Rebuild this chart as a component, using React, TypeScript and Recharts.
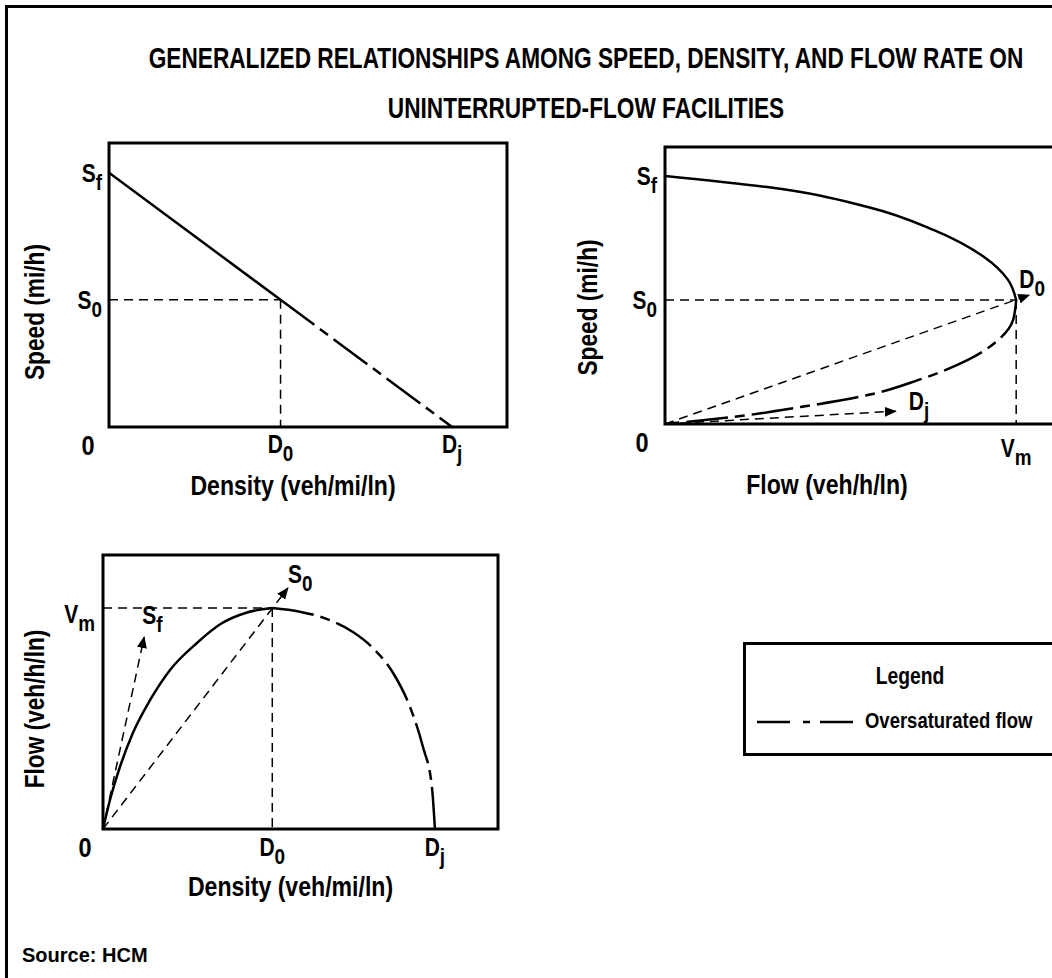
import React from 'react';
import { LineChart, Line, XAxis, YAxis, ReferenceLine, ReferenceArea, ReferenceDot } from 'recharts';

const FONT = "'Liberation Sans', Arial, sans-serif";
// no Arial Narrow here, so squash Liberation Sans Bold horizontally
const NARROW = 0.84;

// speed vs density (top left)
const sdDensity = [0, 50, 100];
const sdSpeed = [60, 30, 0];
const sdXTicks = [0, 50, 100];
const sdXLabels = [['0', ''], ['D', '0'], ['D', 'j']];
const sdYTicks = [30, 60];
const sdYLabels = [['S', '0'], ['S', 'f']];

// speed vs flow (top right)
const sfUpperFlow = [0, 437, 866, 1149, 1363, 1466, 1500];
const sfUpperSpeed = [60, 57.3, 52.5, 46.9, 40.4, 34.8, 30];
const sfLowerFlow = [1500, 1487, 1423, 1294, 1080, 866, 579, 291, 0];
const sfLowerSpeed = [30, 25.2, 20.3, 15.5, 10.6, 7.0, 4.1, 1.7, 0];
const sfArrowFlow = [1556, 986];
const sfArrowSpeed = [31.2, 3.1];
const sfXTicks = [0, 1500];
const sfXLabels = [['0', ''], ['V', 'm']];
const sfYTicks = [30, 60];
const sfYLabels = [['S', '0'], ['S', 'f']];

// flow vs density (bottom left)
const fdUnderDensity = [0, 2.1, 5.1, 9.0, 14.2, 20.2, 28.3, 35.3, 43.4, 51];
const fdUnderFlow = [0, 197, 421, 652, 876, 1080, 1263, 1390, 1470, 1500];
const fdOverDensity = [51, 59.3, 67.5, 75.3, 81.3, 87.4, 92.5, 96.4, 99.1, 100];
const fdOverFlow = [1500, 1475, 1425, 1337, 1229, 1059, 828, 557, 285, 0];
const fdArrowDensity = [12.4, 55.7];
const fdArrowFlow = [1303, 1636];
const fdXTicks = [0, 51, 100];
const fdXLabels = [['0', ''], ['D', '0'], ['D', 'j']];
const fdYTicks = [1500];
const fdYLabels = [['V', 'm']];

const pts = (xs: number[], ys: number[]) => xs.map((x, i) => ({ x, y: ys[i] }));

const txt = { fontFamily: FONT, fontWeight: 700, fill: '#000' };
const squash = (x: number) => `translate(${x} 0) scale(${NARROW} 1) translate(${-x} 0)`;

const SubLabel = ({ x, y, main, sub, anchor = 'middle', size = 25 }: any) => (
  <text x={x} y={y} textAnchor={anchor} fontSize={size} transform={squash(x)} {...txt}>
    {main}
    {sub ? <tspan dy={size * 0.33} fontSize={size * 0.9}>{sub}</tspan> : null}
  </text>
);

const xTick = (values: number[], labels: string[][], dy: number, zeroDx: number) => (p: any) => {
  const i = values.indexOf(p.payload.value);
  if (i < 0) return <g />;
  const [main, sub] = labels[i];
  if (p.payload.value === 0) return <SubLabel x={p.x + zeroDx} y={p.y + 28} main={main} size={28} />;
  return <SubLabel x={p.x} y={p.y + dy} main={main} sub={sub} />;
};

const yTick = (values: number[], labels: string[][], gap: number, dy: number) => (p: any) => {
  const i = values.indexOf(p.payload.value);
  if (i < 0) return <g />;
  const [main, sub] = labels[i];
  return <SubLabel x={p.x - gap} y={p.y + dy} main={main} sub={sub} anchor="end" />;
};

const xTitle = (text: string, dx: number, dy: number) => (p: any) => {
  const vb = p.viewBox;
  const cx = vb.x + vb.width / 2 + dx;
  return (
    <text x={cx} y={vb.y + dy} textAnchor="middle" fontSize={27.5} transform={squash(cx)} {...txt}>
      {text}
    </text>
  );
};

const yTitle = (text: string, x: number, dy: number) => (p: any) => {
  const vb = p.viewBox;
  const cx = vb.x + x;
  const cy = vb.y + vb.height / 2 + dy;
  const tf = `rotate(-90 ${cx} ${cy}) translate(${cx} ${cy}) scale(${NARROW} 1) translate(${-cx} ${-cy})`;
  return (
    <text x={cx} y={cy} transform={tf} textAnchor="middle" fontSize={27} {...txt}>
      {text}
    </text>
  );
};

const arrowDef = (id: string) => (
  <defs>
    <marker id={id} markerWidth={12} markerHeight={10} refX={11} refY={5} orient="auto" markerUnits="userSpaceOnUse">
      <path d="M0,0 L12,5 L0,10 z" fill="#000" />
    </marker>
  </defs>
);

const tagAt = (main: string, sub: string, dx: number, dy: number) => (p: any) => (
  <SubLabel x={p.cx + dx} y={p.cy + dy} main={main} sub={sub} anchor="start" />
);

const axisCommon = {
  type: 'number' as const,
  allowDataOverflow: true,
  tickLine: false,
  axisLine: false,
  tickSize: 0,
  tickMargin: 0,
  interval: 0 as const,
};

const GUIDE = '9 6';
const OVER = '42 7 10 7';

function SpeedDensity() {
  return (
    <LineChart width={530} height={380} margin={{ top: 13, right: 23, left: 0, bottom: 0 }}>
      <XAxis {...axisCommon} dataKey="x" domain={[0, 116]} ticks={sdXTicks} height={83}
        tick={xTick(sdXTicks, sdXLabels, 26, -21)} label={xTitle('Density (veh/mi/ln)', -15, 68)} />
      <YAxis {...axisCommon} domain={[0, 67]} ticks={sdYTicks} width={109}
        tick={yTick(sdYTicks, sdYLabels, 7, 9)} label={yTitle('Speed (mi/h)', 44, 27)} />
      <ReferenceArea x1={0} x2={116} y1={0} y2={67} fill="none" stroke="#000" strokeWidth={3} />
      <ReferenceLine segment={[{ x: 0, y: sdSpeed[1] }, { x: sdDensity[1], y: sdSpeed[1] }]} stroke="#000" strokeWidth={1.5} strokeDasharray={GUIDE} />
      <ReferenceLine segment={[{ x: sdDensity[1], y: sdSpeed[1] }, { x: sdDensity[1], y: 0 }]} stroke="#000" strokeWidth={1.5} strokeDasharray={GUIDE} />
      <Line data={pts(sdDensity.slice(0, 2), sdSpeed.slice(0, 2))} dataKey="y" type="linear" stroke="#000" strokeWidth={2.5} dot={false} isAnimationActive={false} />
      <Line data={pts(sdDensity.slice(1), sdSpeed.slice(1))} dataKey="y" type="linear" stroke="#000" strokeWidth={2.5} strokeDasharray={OVER} dot={false} isAnimationActive={false} />
    </LineChart>
  );
}

function SpeedFlow() {
  const arrows = sfArrowFlow.map((f, i) => pts([0, f], [0, sfArrowSpeed[i]]));
  return (
    <LineChart width={520} height={380} margin={{ top: 17, right: 17, left: 0, bottom: 0 }}>
      {arrowDef('arrowSF')}
      <XAxis {...axisCommon} dataKey="x" domain={[0, 1700]} ticks={sfXTicks} height={86}
        tick={xTick(sfXTicks, sfXLabels, 33, -23)} label={xTitle('Flow (veh/h/ln)', -37, 70)} />
      <YAxis {...axisCommon} domain={[0, 67]} ticks={sfYTicks} width={105}
        tick={yTick(sfYTicks, sfYLabels, 8, 9)} label={yTitle('Speed (mi/h)', 37, 22)} />
      <ReferenceArea x1={0} x2={1700} y1={0} y2={67} fill="none" stroke="#000" strokeWidth={3} />
      <ReferenceLine segment={[{ x: 0, y: 30 }, { x: 1500, y: 30 }]} stroke="#000" strokeWidth={1.5} strokeDasharray={GUIDE} />
      <ReferenceLine segment={[{ x: 1500, y: 30 }, { x: 1500, y: 0 }]} stroke="#000" strokeWidth={1.5} strokeDasharray={GUIDE} />
      {arrows.map((a, i) => (
        <Line key={i} data={a} dataKey="y" type="linear" stroke="#000" strokeWidth={1.5} strokeDasharray={GUIDE}
          markerEnd="url(#arrowSF)" dot={false} isAnimationActive={false} />
      ))}
      <Line data={pts(sfUpperFlow, sfUpperSpeed)} dataKey="y" type="monotoneY" stroke="#000" strokeWidth={2.5} dot={false} isAnimationActive={false} />
      <Line data={pts(sfLowerFlow, sfLowerSpeed)} dataKey="y" type="monotoneY" stroke="#000" strokeWidth={2.5} strokeDasharray={OVER} dot={false} isAnimationActive={false} />
      <ReferenceDot x={sfArrowFlow[0]} y={sfArrowSpeed[0]} r={0} shape={tagAt('D', '0', -10, -7)} />
      <ReferenceDot x={sfArrowFlow[1]} y={sfArrowSpeed[1]} r={0} shape={tagAt('D', 'j', 13, -1)} />
    </LineChart>
  );
}

function FlowDensity() {
  const arrows = fdArrowDensity.map((d, i) => pts([0, d], [0, fdArrowFlow[i]]));
  return (
    <LineChart width={530} height={370} margin={{ top: 15, right: 32, left: 0, bottom: 0 }}>
      {arrowDef('arrowFD')}
      <XAxis {...axisCommon} dataKey="x" domain={[0, 119]} ticks={fdXTicks} height={81}
        tick={xTick(fdXTicks, fdXLabels, 27, -18)} label={xTitle('Density (veh/mi/ln)', -10, 67)} />
      <YAxis {...axisCommon} domain={[0, 1860]} ticks={fdYTicks} width={103}
        tick={yTick(fdYTicks, fdYLabels, 8, 15)} label={yTitle('Flow (veh/h/ln)', 44, 17)} />
      <ReferenceArea x1={0} x2={119} y1={0} y2={1860} fill="none" stroke="#000" strokeWidth={3} />
      <ReferenceLine segment={[{ x: 0, y: 1500 }, { x: 51, y: 1500 }]} stroke="#000" strokeWidth={1.5} strokeDasharray={GUIDE} />
      <ReferenceLine segment={[{ x: 51, y: 1500 }, { x: 51, y: 0 }]} stroke="#000" strokeWidth={1.5} strokeDasharray={GUIDE} />
      {arrows.map((a, i) => (
        <Line key={i} data={a} dataKey="y" type="linear" stroke="#000" strokeWidth={1.5} strokeDasharray={GUIDE}
          markerEnd="url(#arrowFD)" dot={false} isAnimationActive={false} />
      ))}
      <Line data={pts(fdUnderDensity, fdUnderFlow)} dataKey="y" type="monotone" stroke="#000" strokeWidth={2.5} dot={false} isAnimationActive={false} />
      <Line data={pts(fdOverDensity, fdOverFlow)} dataKey="y" type="monotone" stroke="#000" strokeWidth={2.5} strokeDasharray={OVER} dot={false} isAnimationActive={false} />
      <ReferenceDot x={fdArrowDensity[0]} y={fdArrowFlow[0]} r={0} shape={tagAt('S', 'f', -2, -13)} />
      <ReferenceDot x={fdArrowDensity[1]} y={fdArrowFlow[1]} r={0} shape={tagAt('S', '0', 0, -5)} />
    </LineChart>
  );
}

const narrowLine = (extra: any, scale = NARROW) => ({
  fontFamily: FONT,
  fontWeight: 700,
  whiteSpace: 'nowrap' as const,
  transform: `scaleX(${scale})`,
  ...extra,
});

export default function App() {
  return (
    <div style={{ position: 'relative', width: 1052, height: 978, overflow: 'hidden', background: '#fff' }}>
      <style>{'body{margin:0}'}</style>
      <div style={{ position: 'absolute', left: 5, top: 5, width: 1200, height: 1200, border: '3px solid #000' }} />
      <div style={{ position: 'absolute', left: 0, top: 33, width: 1172, textAlign: 'center', fontSize: 30, lineHeight: '50px' }}>
        <div style={narrowLine({ transformOrigin: '586px 50%' }, 0.755)}>GENERALIZED RELATIONSHIPS AMONG SPEED, DENSITY, AND FLOW RATE ON</div>
        <div style={narrowLine({ transformOrigin: '586px 50%' }, 0.755)}>UNINTERRUPTED-FLOW FACILITIES</div>
      </div>
      <div style={{ position: 'absolute', left: 0, top: 130 }}>
        <SpeedDensity />
      </div>
      <div style={{ position: 'absolute', left: 560, top: 130 }}>
        <SpeedFlow />
      </div>
      <div style={{ position: 'absolute', left: 0, top: 540 }}>
        <FlowDensity />
      </div>
      <div style={{ position: 'absolute', left: 743, top: 642, width: 400, height: 114, boxSizing: 'border-box', border: '3px solid #000' }}>
        <div style={narrowLine({ position: 'absolute', left: 0, width: 328, top: 18, textAlign: 'center', fontSize: 23, transformOrigin: '164px 50%' })}>
          Legend
        </div>
        <svg style={{ position: 'absolute', left: 11, top: 72 }} width={100} height={10}>
          <line x1={0} y1={5} x2={96} y2={5} stroke="#000" strokeWidth={2.5} strokeDasharray="33 13 7 10 33" />
        </svg>
        <div style={narrowLine({ position: 'absolute', left: 119, top: 63, fontSize: 22, transformOrigin: '0 50%' })}>
          Oversaturated flow
        </div>
      </div>
      <div style={{ position: 'absolute', left: 22, top: 944, fontFamily: FONT, fontWeight: 700, fontSize: 20 }}>
        Source: HCM
      </div>
    </div>
  );
}
